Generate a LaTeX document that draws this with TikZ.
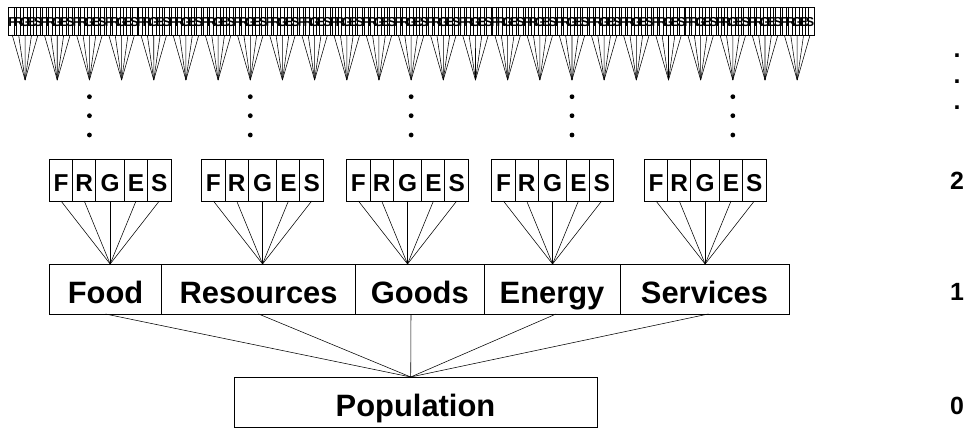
\documentclass[tikz,border=0pt]{standalone}
\usepackage{fontspec}
\setmainfont{Liberation Sans}
\usetikzlibrary{positioning}
\newcommand{\boxlw}{0.9bp}
\newcommand{\fanlw}{0.55bp}

\begin{document}
\begin{tikzpicture}[x=1bp, y=1bp,
  every node/.style={outer sep=0pt},
  bigbox/.style={draw, line width=\boxlw, minimum height=50bp, inner sep=0pt,
    font=\fontsize{31}{31}\selectfont\bfseries, text height=34bp, text depth=6bp},
  cell/.style={draw, line width=\boxlw, minimum height=41.5bp, inner sep=0pt,
    font=\fontsize{24.5}{24.5}\selectfont\bfseries, text height=26bp, text depth=3bp},
  tinycell/.style={draw, line width=0.6bp, minimum width=6.434bp, minimum height=27.7bp,
    inner sep=0pt, font=\fontsize{13}{13}\selectfont\bfseries, text height=12.5bp, text depth=1bp},
  levelno/.style={anchor=base, inner sep=0pt, font=\fontsize{25}{25}\selectfont\bfseries},
  fan/.style={line width=\fanlw}]

  \useasboundingbox (0,0) rectangle (967,428);

  % level 0
  \node[bigbox, minimum width=363bp] (pop) at (415.5,26) {Population};
  \coordinate (popTop) at (410.7,51);

  % level 1
  \node[bigbox, minimum width=112.4bp, anchor=west] (food) at (49.3,139) {Food};
  \node[bigbox, minimum width=193.8bp, right=0pt of food] (res) {Resources};
  \node[bigbox, minimum width=128.5bp, right=0pt of res] (goods) {Goods};
  \node[bigbox, minimum width=136bp, right=0pt of goods] (energy) {Energy};
  \node[bigbox, minimum width=169bp, right=0pt of energy] (serv) {Services};

  \foreach \n/\dx [count=\g] in {food/105.5, res/258.6, goods/411, energy/556, serv/708.3} {
    \coordinate (dn\g) at (\dx,114);
    \draw[fan] (dn\g) -- (popTop);
  }

  % level 2
  \foreach \gx [count=\g] in {49.3, 201.7, 346.7, 491.7, 644.3} {
    \node[cell, minimum width=23.5bp, anchor=west] (c\g-1) at (\gx,247.7) {F};
    \node[cell, minimum width=23bp, right=0pt of c\g-1] (c\g-2) {R};
    \node[cell, minimum width=28.7bp, right=0pt of c\g-2] (c\g-3) {G};
    \node[cell, minimum width=23bp, right=0pt of c\g-3] (c\g-4) {E};
    \node[cell, minimum width=23.5bp, right=0pt of c\g-4] (c\g-5) {S};
    \coordinate (up\g) at (c\g-3.south |- food.north);
    \foreach \c in {1,...,5}
      \draw[fan] (c\g-\c.south) -- (up\g);
  }

  % dots between level 2 and the top row
  \foreach \g in {2,7,12,17,22}
    \foreach \y in {331.3, 312.3, 293}
      \fill ({25.1+32.17*\g},\y) circle (2.4bp);

  % top row
  \foreach \g in {0,...,24} {
    \coordinate (ta\g) at ({25.1+32.17*\g},348);
    \foreach \l [count=\k from 0] in {F,R,G,E,S} {
      \node[tinycell] (t\g-\k) at ({9+32.17*\g+6.434*\k+3.217},406.85) {\l};
      \draw[fan] (t\g-\k.south) -- (ta\g);
    }
  }

  % level numbers
  \node[levelno] (lv0) at (957,14) {0};
  \node[levelno] (lv1) at (957,128) {1};
  \node[levelno] (lv2) at (957,239) {2};
  \node[levelno] (vd1) at (957,371) {.};
  \node[levelno] (vd2) at (957,345) {.};
  \node[levelno] (vd3) at (957,318.5) {.};
\end{tikzpicture}
\end{document}
